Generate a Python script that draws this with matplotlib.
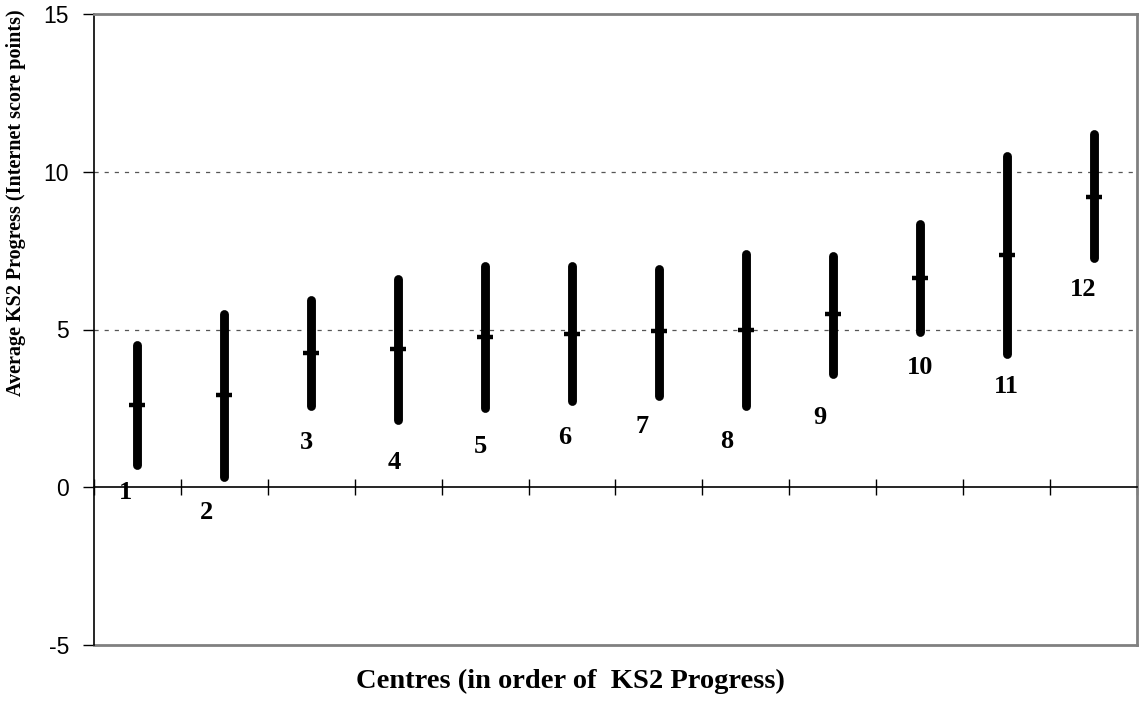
import numpy as np
import matplotlib.pyplot as plt

# Centres ordered by KS2 progress: mean and interval ends
centres = ['1', '2', '3', '4', '5', '6', '7', '8', '9', '10', '11', '12']
means = [2.62, 2.93, 4.26, 4.37, 4.77, 4.87, 4.94, 5.00, 5.48, 6.64, 7.37, 9.21]
lows = [0.71, 0.34, 2.59, 2.12, 2.51, 2.72, 2.90, 2.59, 3.60, 4.93, 4.21, 7.27]
highs = [4.52, 5.50, 5.92, 6.61, 7.01, 7.01, 6.93, 7.40, 7.33, 8.33, 10.50, 11.19]
# where the centre numbers sit (data units)
label_y = [-0.17, -0.80, 1.41, 0.78, 1.29, 1.57, 1.92, 1.44, 2.20, 3.79, 3.19, 6.27]
label_dx = [-0.14, -0.20, -0.06, -0.04, -0.05, -0.09, -0.19, -0.22, -0.15, 0.0, 0.0, -0.12]

plt.rcParams['lines.scale_dashes'] = False

fig = plt.figure(figsize=(11.41, 7.25), dpi=100)
ax = fig.add_axes([94 / 1141, 80 / 725, 1043 / 1141, 631 / 725])

x = np.arange(1, len(centres) + 1)

ax.vlines(x, lows, highs, colors='black', linewidth=6.4, capstyle='round', zorder=3)
ax.plot(x, means, linestyle='none', marker='_', markersize=12, markeredgewidth=3.2,
        color='black', zorder=4)

for xi, lab, ly, dx in zip(x, centres, label_y, label_dx):
    ax.text(xi + dx, ly, lab, ha='center', va='center', fontsize=19,
            fontweight='bold', family='Liberation Serif')

# dotted gridlines at 5 and 10 only
for g in [5, 10]:
    ax.axhline(g, color='#555555', linewidth=0.9, dashes=(3, 4.3), zorder=1)

ax.set_xlim(0.5, 12.5)
ax.set_ylim(-5, 15)
ax.set_yticks([-5, 0, 5, 10, 15])
ax.set_yticklabels(['-5', '0', '5', '10', '15'], family='Liberation Sans', fontsize=16.5)
ax.set_xticks(np.arange(0.5, 12.6, 1))
ax.set_xticklabels([])

ax.spines['bottom'].set_position(('data', 0))
ax.spines['left'].set_linewidth(1.2)
ax.spines['bottom'].set_linewidth(1.2)
for s in ['top', 'right']:
    ax.spines[s].set_color('#808080')
    ax.spines[s].set_linewidth(2)
ax.axhline(-5, color='#808080', linewidth=2, clip_on=False)

ax.tick_params(axis='x', direction='inout', length=12, width=1)
ax.tick_params(axis='y', direction='out', length=8, width=1, pad=10)

fig.text(16 / 1141, 1 - 203 / 725, 'Average KS2 Progress (Internet score points)',
         rotation=90, ha='center', va='center', fontsize=14.5, fontweight='bold',
         family='Liberation Serif')
fig.text(570 / 1141, 1 - 681 / 725, 'Centres (in order of  KS2 Progress)',
         ha='center', va='center', fontsize=20.5, fontweight='bold',
         family='Liberation Serif')

fig.savefig('out.png', dpi=100)
